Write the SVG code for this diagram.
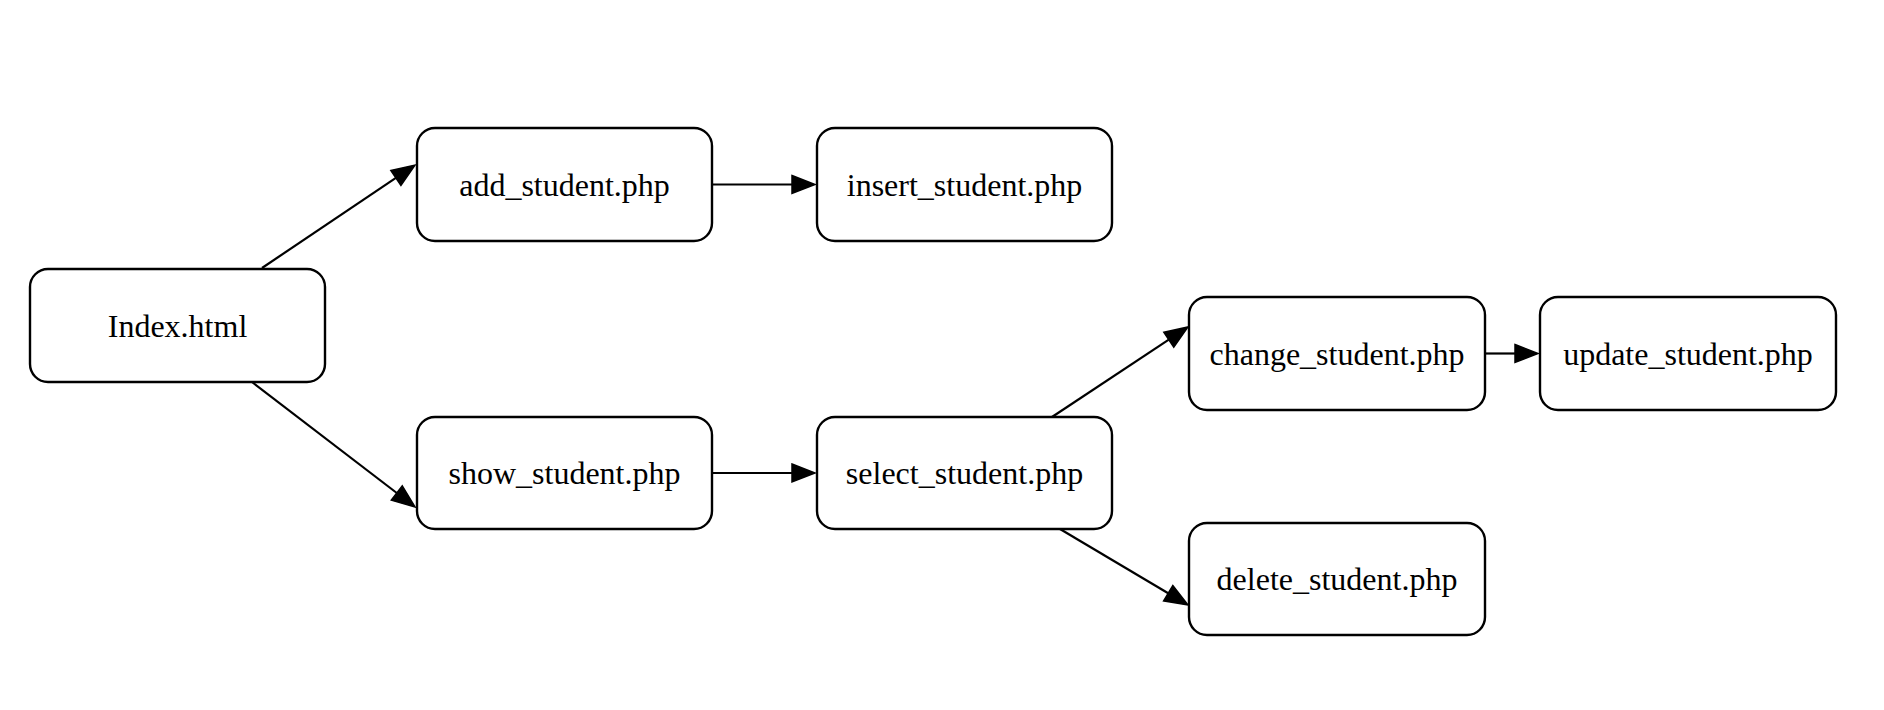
<svg xmlns="http://www.w3.org/2000/svg" width="1884" height="710" viewBox="0 0 1884 710">
<style>
.node rect{fill:#fff;stroke:#000;stroke-width:2.4}
.node text{font-family:"Liberation Serif","Times New Roman",serif;font-size:32px;text-anchor:middle;fill:#000}
.edge{stroke:#000;stroke-width:2.2;fill:none;marker-end:url(#arr)}
</style>
<defs>
<marker id="arr" markerUnits="userSpaceOnUse" markerWidth="24" markerHeight="20" refX="0" refY="9" orient="auto" overflow="visible">
<path d="M0,0 L23,9 L0,18 Z" fill="#000" stroke="#000" stroke-width="1.5"/>
</marker>
</defs>
<rect width="1884" height="710" fill="#fff"/>
<g id="connectors">
<line class="edge" x1="262" y1="268" x2="395.9" y2="177.9"/>
<line class="edge" x1="252" y1="382" x2="396.8" y2="493"/>
<line class="edge" x1="712" y1="184.5" x2="792" y2="184.5"/>
<line class="edge" x1="712" y1="473" x2="792" y2="473"/>
<line class="edge" x1="1052" y1="417" x2="1168.8" y2="339.7"/>
<line class="edge" x1="1060" y1="529" x2="1168.2" y2="593.3"/>
<line class="edge" x1="1485" y1="353.5" x2="1515" y2="353.5"/>
</g>
<g id="index" class="node"><rect x="30" y="269" width="295" height="113" rx="18"/><text x="177.5" y="336.5">Index.html</text></g>
<g id="add_student" class="node"><rect x="417" y="128" width="295" height="113" rx="18"/><text x="564.5" y="195.5">add_student.php</text></g>
<g id="insert_student" class="node"><rect x="817" y="128" width="295" height="113" rx="18"/><text x="964.5" y="195.5">insert_student.php</text></g>
<g id="show_student" class="node"><rect x="417" y="417" width="295" height="112" rx="18"/><text x="564.5" y="484">show_student.php</text></g>
<g id="select_student" class="node"><rect x="817" y="417" width="295" height="112" rx="18"/><text x="964.5" y="484">select_student.php</text></g>
<g id="change_student" class="node"><rect x="1189" y="297" width="296" height="113" rx="18"/><text x="1337" y="364.5">change_student.php</text></g>
<g id="update_student" class="node"><rect x="1540" y="297" width="296" height="113" rx="18"/><text x="1688" y="364.5">update_student.php</text></g>
<g id="delete_student" class="node"><rect x="1189" y="523" width="296" height="112" rx="18"/><text x="1337" y="590">delete_student.php</text></g>
</svg>
